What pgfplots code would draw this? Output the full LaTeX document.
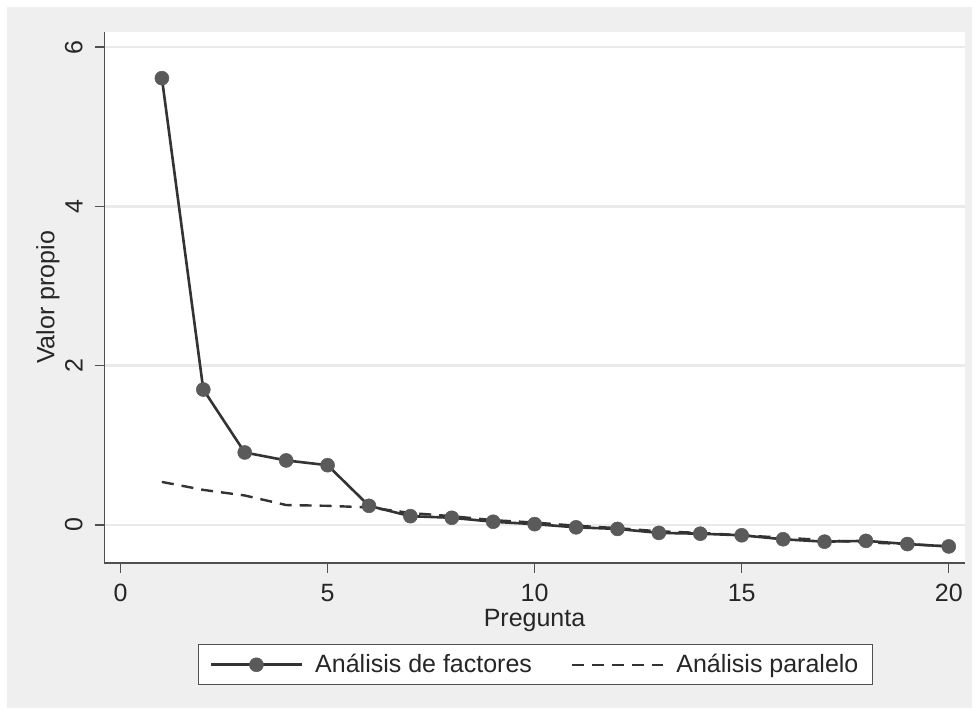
\documentclass[border=0pt]{standalone}
\usepackage{fontspec}
\setmainfont{Liberation Sans}
\usepackage{pgfplots}
\pgfplotsset{compat=1.18}

\definecolor{bggray}{HTML}{EFEFEF}
\definecolor{gridgray}{HTML}{EAEAEA}
\definecolor{axisgray}{HTML}{505050}
\definecolor{linedark}{HTML}{333333}
\definecolor{markgray}{HTML}{5A5A5A}

\pgfplotsset{
  factleg/.style={legend image code/.code={
    \draw[##1, mark=none] (0bp,0bp) -- (91bp,0bp);
    \draw[##1] plot coordinates {(45.5bp,0bp)};
  }},
  paraleg/.style={legend image code/.code={
    \draw[##1] (0bp,0bp) -- (91bp,0bp);
  }},
}

\pgfplotstableread{
x y
1 5.61
2 1.70
3 0.91
4 0.81
5 0.75
6 0.24
7 0.11
8 0.09
9 0.04
10 0.01
11 -0.03
12 -0.05
13 -0.10
14 -0.11
15 -0.13
16 -0.18
17 -0.21
18 -0.20
19 -0.24
20 -0.27
}\factores

\pgfplotstableread{
x y
1 0.54
2 0.44
3 0.37
4 0.25
5 0.24
6 0.22
7 0.15
8 0.11
9 0.06
10 0.03
11 -0.01
12 -0.04
13 -0.08
14 -0.10
15 -0.13
16 -0.16
17 -0.19
18 -0.22
19 -0.24
20 -0.27
}\paralelo

\begin{document}
\fontsize{25bp}{29bp}\selectfont
\begin{tikzpicture}
\fill[white] (0bp,0bp) rectangle (977bp,715bp);
\fill[bggray] (7bp,7bp) rectangle (972bp,708bp);
\begin{axis}[
  at={(104.5bp,152bp)}, anchor=south west,
  scale only axis,
  width=860bp, height=531bp,
  xmin=-0.386, xmax=20.38,
  ymin=-0.478, ymax=6.19,
  axis x line*=bottom, axis y line*=left,
  axis line style={-, color=axisgray, line width=1.3bp},
  axis background/.style={fill=white},
  xtick={0,5,10,15,20}, ytick={0,2,4,6},
  tick align=outside,
  major tick length=10bp,
  tick style={color=axisgray, line width=1.3bp},
  /pgf/number format/assume math mode=true,
  xticklabel style={anchor=north, inner sep=0pt, outer sep=0pt, yshift=-11bp, text=black!85},
  yticklabel style={rotate=90, anchor=south, inner sep=0pt, outer sep=12bp, text=black!85},
  ymajorgrids,
  major grid style={color=gridgray, line width=2.5bp},
  xlabel={Pregunta},
  ylabel={Valor propio},
  xlabel style={at={(axis description cs:0.5,-0.1195)}, anchor=base, inner sep=0pt, text=black!85},
  ylabel style={at={(axis description cs:-0.0657,0.5)}, anchor=center, inner sep=0pt, text=black!85},
  legend columns=2,
  legend style={at={(0.5012,-0.1526)}, anchor=north, draw=axisgray, line width=1.3bp,
    fill=white, inner xsep=11bp, inner ysep=6bp,
    nodes={inner sep=3bp, text=black!85},
    /tikz/every odd column/.append style={column sep=9bp},
    /tikz/every even column/.append style={column sep=36bp}},
]
\addplot[color=linedark, line width=2.6bp, mark=*, mark size=7bp,
  mark options={fill=markgray, draw=markgray, line width=0.5bp},
  factleg] table[x=x,y=y] {\factores};
\addplot[color=linedark, line width=2.4bp, dash pattern=on 12bp off 8bp,
  paraleg] table[x=x,y=y] {\paralelo};
\legend{Análisis de factores, Análisis paralelo}
\end{axis}
\end{tikzpicture}
\end{document}
